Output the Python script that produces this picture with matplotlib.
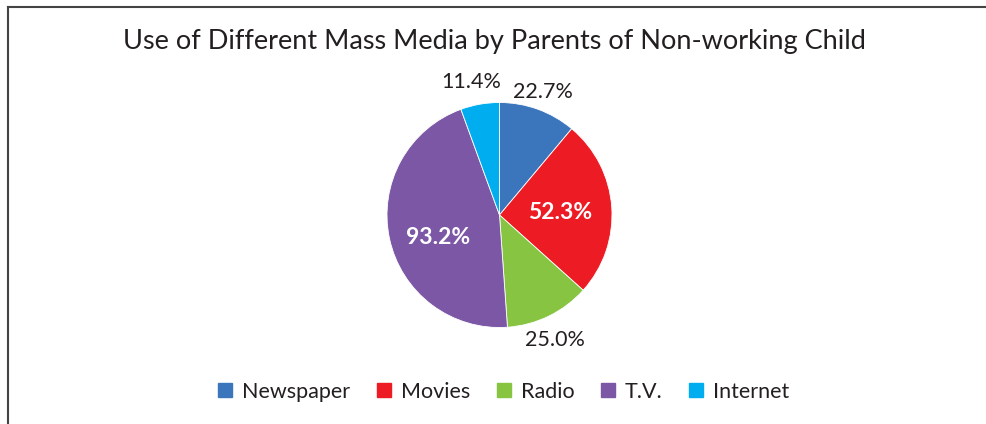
import numpy as np
import matplotlib
matplotlib.use("Agg")
import matplotlib.pyplot as plt
from matplotlib.lines import Line2D

categories = ["Newspaper", "Movies", "Radio", "T.V.", "Internet"]
values = [22.7, 52.3, 25.0, 93.2, 11.4]
labels = ["22.7%", "52.3%", "25.0%", "93.2%", "11.4%"]
colors = ["#3b76bd", "#ed1c24", "#86c441", "#7b57a5", "#00aeef"]
title = "Use of Different Mass Media by Parents of Non-working Child"

FONT = ["Lato", "DejaVu Sans"]
plt.rcParams["font.family"] = FONT

W, H = 987, 424
fig = plt.figure(figsize=(W / 100, H / 100), dpi=100)

# frame lines (top and left)
fig.add_artist(Line2D([8 / W, 1], [1 - 7 / H, 1 - 7 / H], color="#444444", lw=1.5))
fig.add_artist(Line2D([8 / W, 8 / W], [0, 1 - 7 / H], color="#444444", lw=1.5))

fig.text(494 / W, 1 - 42 / H, title, ha="center", va="center", fontsize=19.5, color="#231f20")

cx, cy, r = 499.5, 215, 112.5
ax = fig.add_axes([(cx - r) / W, (H - cy - r) / H, 2 * r / W, 2 * r / H])
wedges, _ = ax.pie(values, colors=colors, startangle=90, counterclock=False,
                   wedgeprops=dict(edgecolor="white", linewidth=0.6))
ax.set_xlim(-1, 1)
ax.set_ylim(-1, 1)
ax.set_aspect("auto")
ax.axis("off")

# label placement: radius factor, angle offset (deg), inside (white bold) flag
lab_r = [1.16, 0.54, 1.22, 0.58, 1.21]
lab_da = [0.5, -1.5, -2.0, 8.0, 2.0]
inside = [False, True, False, True, False]
for w, lab, rf, da, ins in zip(wedges, labels, lab_r, lab_da, inside):
    mid = np.deg2rad((w.theta1 + w.theta2) / 2 + da)
    x, y = rf * np.cos(mid), rf * np.sin(mid)
    if ins:
        ax.text(x, y, lab, ha="center", va="center", color="white",
                fontsize=16.5, fontweight="bold")
    else:
        ax.text(x, y, lab, ha="center", va="center", color="#231f20", fontsize=15.5)

handles = [plt.Line2D([], [], marker="s", linestyle="none", markersize=10,
                      markerfacecolor=c, markeredgecolor=c) for c in colors]
fig.legend(handles, categories, loc="center", bbox_to_anchor=(502 / W, 1 - 392 / H),
           ncol=5, frameon=False, fontsize=15.5, handletextpad=0.3, columnspacing=1.05,
           handlelength=1.0, labelcolor="#231f20")

fig.savefig("out.png", dpi=100)
